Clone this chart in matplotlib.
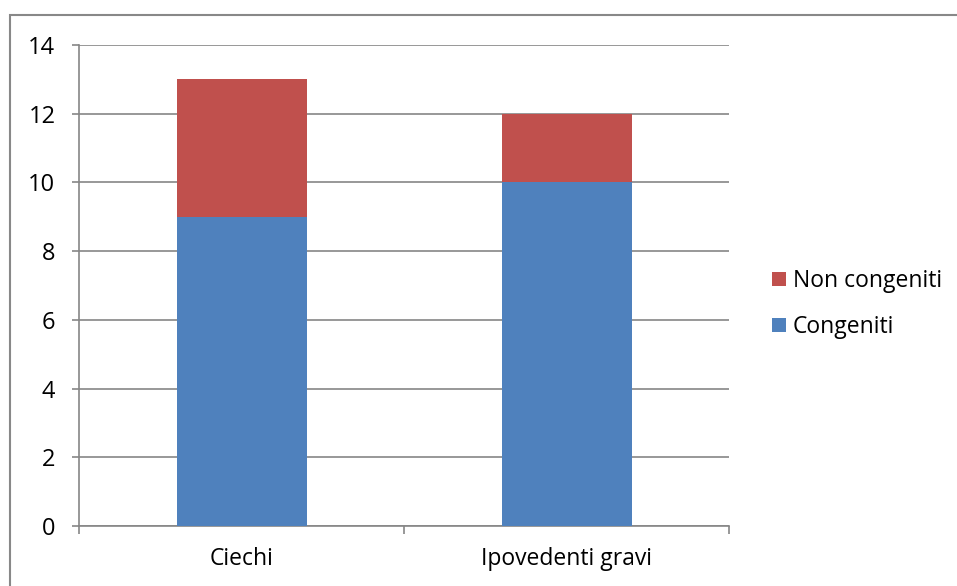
import matplotlib.pyplot as plt
from matplotlib.patches import Rectangle

categories = ['Ciechi', 'Ipovedenti gravi']
congeniti = [9, 10]
non_congeniti = [4, 2]

plt.rcParams['font.family'] = ['Open Sans', 'DejaVu Sans']

fig = plt.figure(figsize=(9.57, 5.86), dpi=100)
ax = fig.add_axes([79 / 957, 1 - 526 / 586, 650 / 957, 481 / 586])

grey = '#868686'
x = range(len(categories))
b1 = ax.bar(x, congeniti, width=0.4, color='#4F81BD', zorder=3)
b2 = ax.bar(x, non_congeniti, width=0.4, bottom=congeniti, color='#C0504D', zorder=3)

ax.set_xlim(-0.5, 1.5)
ax.set_ylim(0, 14)
ax.set_yticks(range(0, 15, 2))
ax.yaxis.grid(True, color=grey, linewidth=1.2, zorder=0)

# category dividers as major ticks, names as minor ticks
ax.set_xticks([-0.5, 0.5, 1.5])
ax.set_xticklabels([])
ax.set_xticks(list(x), minor=True)
ax.set_xticklabels(categories, minor=True)
ax.tick_params(axis='x', which='major', length=6, width=1.2, color=grey)
ax.tick_params(axis='x', which='minor', length=0, pad=15, labelsize=16.5)
ax.tick_params(axis='y', length=5, width=1.2, color=grey, labelsize=17, pad=12)

for side in ['top', 'right']:
    ax.spines[side].set_visible(False)
for side in ['left', 'bottom']:
    ax.spines[side].set_color(grey)
    ax.spines[side].set_linewidth(1.2)

ax.legend([b2, b1], ['Non congeniti', 'Congeniti'], loc='center left',
          bbox_to_anchor=(761 / 957, 1 - 304 / 586), bbox_transform=fig.transFigure,
          frameon=False, fontsize=16.5, handlelength=0.6, handleheight=0.6,
          handletextpad=0.3, labelspacing=0.95, borderpad=0)

# chart frame
fig.patches.append(Rectangle((10 / 957, -0.1), 1.1, 1.1 - 15 / 586, transform=fig.transFigure,
                             fill=False, edgecolor='#888888', linewidth=1.5))

fig.savefig('out.png', dpi=100)
